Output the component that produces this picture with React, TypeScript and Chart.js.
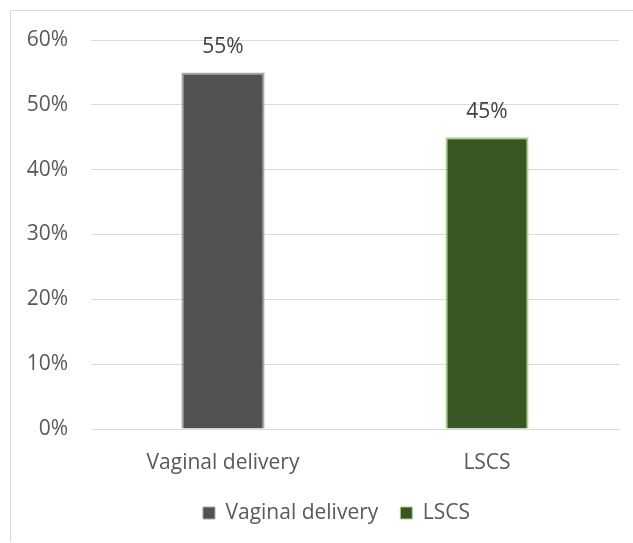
import React, { useEffect, useRef } from "react";
import { Chart, registerables } from "chart.js";

Chart.register(...registerables);

const categories: string[] = ["Vaginal delivery", "LSCS"];
const values: number[] = [55, 45];
const fillColors: string[] = ["#525252", "#3a5723"];
const borderColors: string[] = ["#a6a6a6", "#a9d18e"];
const yTicks = { min: 0, max: 60, step: 10 };

const FONT = "'Open Sans', sans-serif";
const FS = 21;
const TEXT = "#595959";
const GRID = "#d9d9d9";

const framePlugin = {
  id: "frame",
  beforeDraw(chart: any) {
    const ctx = chart.ctx;
    ctx.save();
    ctx.fillStyle = "#ffffff";
    ctx.fillRect(0, 0, chart.width, chart.height);
    ctx.strokeStyle = GRID;
    ctx.lineWidth = 1;
    ctx.beginPath();
    ctx.moveTo(10.5, chart.height - 1);
    ctx.lineTo(10.5, 10.5);
    ctx.lineTo(chart.width, 10.5);
    ctx.stroke();
    ctx.restore();
  },
};

// shift the legend's horizontal band so it is centred like the reference
const legendShiftPlugin = {
  id: "legendShift",
  afterLayout(chart: any) {
    if (chart.legend) chart.legend.left = 54;
  },
};

const valueLabelPlugin = {
  id: "valueLabels",
  afterDatasetsDraw(chart: any) {
    const ctx = chart.ctx;
    ctx.save();
    ctx.font = `${FS}px ${FONT}`;
    ctx.fillStyle = "#404040";
    ctx.textAlign = "center";
    ctx.textBaseline = "middle";
    chart.data.datasets.forEach((ds: any, di: number) => {
      const meta = chart.getDatasetMeta(di);
      meta.data.forEach((bar: any, i: number) => {
        const v = ds.data[i];
        if (v == null) return;
        ctx.fillText(`${v}%`, bar.x, bar.y - 25);
      });
    });
    ctx.restore();
  },
};

export default function App() {
  const ref = useRef<HTMLCanvasElement | null>(null);

  useEffect(() => {
    document.body.style.margin = "0";
    if (!ref.current) return;
    const chart = new Chart(ref.current, {
      type: "bar",
      data: {
        labels: categories,
        datasets: [
          {
            label: "Share",
            data: values,
            backgroundColor: fillColors,
            borderColor: borderColors,
            borderWidth: 2,
            categoryPercentage: 1,
            barPercentage: 0.315,
          },
        ],
      },
      options: {
        responsive: false,
        animation: false,
        layout: { padding: { top: 40, left: 0, right: 14, bottom: 9.5 } },
        plugins: {
          tooltip: { enabled: false },
          legend: {
            position: "bottom",
            labels: {
              font: { family: FONT, size: FS },
              color: TEXT,
              boxWidth: 12,
              boxHeight: 12,
              padding: 22,
              generateLabels: (chart: any) =>
                chart.data.labels.map((l: string, i: number) => ({
                  text: l,
                  fillStyle: fillColors[i],
                  strokeStyle: borderColors[i],
                  lineWidth: 1,
                  fontColor: TEXT,
                  index: i,
                  datasetIndex: 0,
                })),
            },
          },
        },
        scales: {
          x: {
            grid: { display: false },
            border: { display: true, color: GRID },
            ticks: { color: TEXT, font: { family: FONT, size: FS }, padding: 13 },
            afterFit: (s: any) => {
              s.height = 51.5;
            },
          },
          y: {
            min: yTicks.min,
            max: yTicks.max,
            grid: { color: GRID, drawTicks: false },
            border: { display: false },
            ticks: {
              stepSize: yTicks.step,
              padding: 23,
              color: TEXT,
              font: { family: FONT, size: FS },
              callback: (v: any) => `${v}%`,
            },
            afterFit: (s: any) => {
              s.width = 91;
            },
          },
        },
      },
      plugins: [framePlugin, legendShiftPlugin, valueLabelPlugin],
    });
    return () => chart.destroy();
  }, []);

  return (
    <div style={{ width: 633, height: 543 }}>
      <canvas ref={ref} width={633} height={543} />
    </div>
  );
}
